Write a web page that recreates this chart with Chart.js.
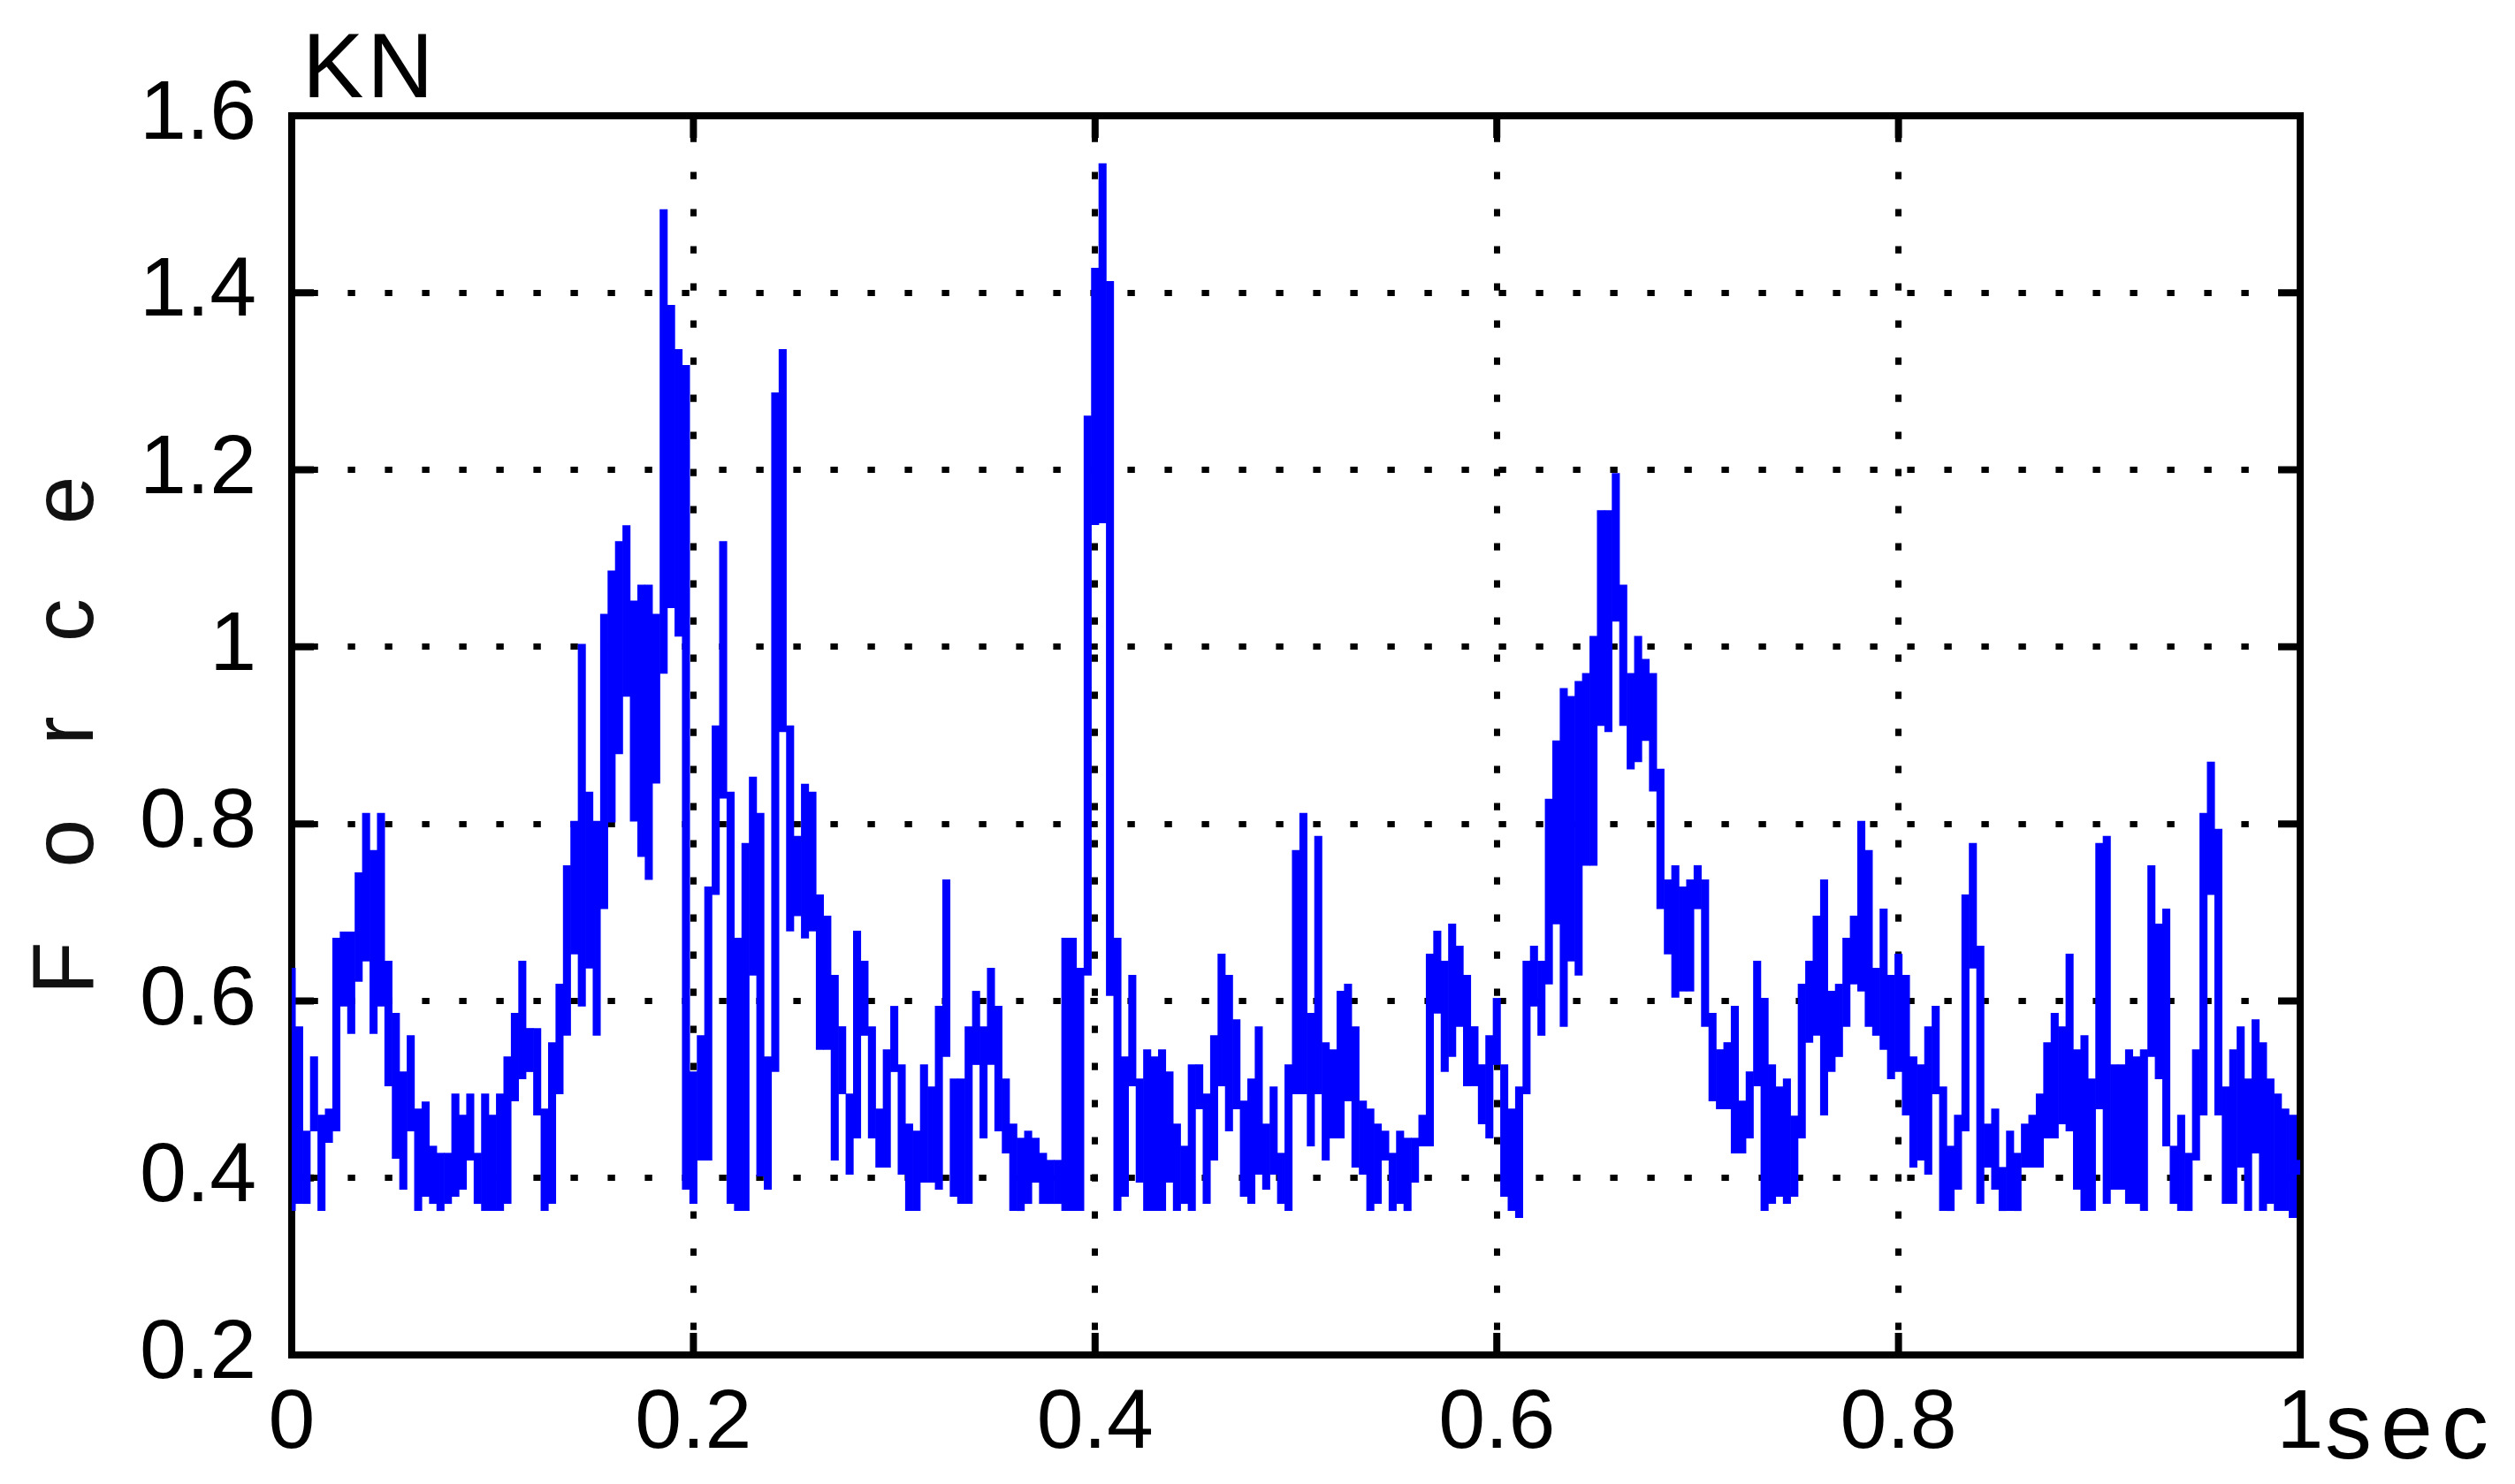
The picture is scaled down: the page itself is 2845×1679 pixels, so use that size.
<!DOCTYPE html>
<html>
<head>
<meta charset="utf-8">
<title>Force</title>
<script src="https://cdn.jsdelivr.net/npm/chart.js@4.4.1/dist/chart.umd.min.js"></script>
<style>
  html, body { margin: 0; padding: 0; background: #ffffff; }
  #chart { display: block; }
</style>
</head>
<body>
<canvas id="chart" width="2845" height="1679"></canvas>
<script>
// force trace, one min/max pair per screen column (271 columns over 1 s)
var forceHigh = [
    0.637, 0.571, 0.453, 0.537, 0.471, 0.478, 0.671, 0.678, 0.678, 0.745,
    0.812, 0.770, 0.812, 0.645, 0.586, 0.520, 0.561, 0.478, 0.486, 0.436,
    0.428, 0.428, 0.495, 0.471, 0.495, 0.428, 0.495, 0.471, 0.495, 0.537,
    0.586, 0.645, 0.569, 0.569, 0.478, 0.553, 0.619, 0.753, 0.803, 1.003,
    0.836, 0.803, 1.037, 1.086, 1.119, 1.137, 1.052, 1.070, 1.070, 1.037,
    1.494, 1.386, 1.336, 1.318, 0.520, 0.561, 0.729, 0.911, 1.119, 0.836,
    0.671, 0.778, 0.853, 0.812, 0.537, 1.287, 1.336, 0.911, 0.786, 0.845,
    0.836, 0.720, 0.696, 0.629, 0.571, 0.495, 0.679, 0.645, 0.571, 0.478,
    0.545, 0.594, 0.528, 0.461, 0.453, 0.528, 0.503, 0.594, 0.737, 0.512,
    0.512, 0.571, 0.611, 0.571, 0.637, 0.594, 0.512, 0.461, 0.445, 0.453,
    0.445, 0.428, 0.420, 0.420, 0.671, 0.671, 0.637, 1.261, 1.428, 1.546,
    1.413, 0.671, 0.537, 0.629, 0.512, 0.545, 0.537, 0.545, 0.520, 0.461,
    0.436, 0.528, 0.528, 0.495, 0.561, 0.653, 0.629, 0.579, 0.487, 0.512,
    0.571, 0.461, 0.503, 0.428, 0.528, 0.770, 0.812, 0.586, 0.786, 0.553,
    0.545, 0.611, 0.619, 0.571, 0.487, 0.478, 0.461, 0.453, 0.428, 0.453,
    0.445, 0.445, 0.471, 0.653, 0.679, 0.645, 0.687, 0.662, 0.629, 0.571,
    0.528, 0.561, 0.603, 0.528, 0.478, 0.503, 0.645, 0.662, 0.645, 0.828,
    0.894, 0.953, 0.944, 0.961, 0.970, 1.012, 1.154, 1.154, 1.196, 1.070,
    0.970, 1.012, 0.986, 0.970, 0.862, 0.737, 0.753, 0.729, 0.737, 0.753,
    0.737, 0.586, 0.545, 0.553, 0.594, 0.487, 0.520, 0.645, 0.603, 0.528,
    0.503, 0.512, 0.470, 0.619, 0.645, 0.696, 0.737, 0.611, 0.619, 0.671,
    0.696, 0.803, 0.770, 0.637, 0.704, 0.629, 0.653, 0.629, 0.537, 0.528,
    0.571, 0.594, 0.503, 0.436, 0.471, 0.720, 0.778, 0.662, 0.461, 0.478,
    0.412, 0.453, 0.428, 0.461, 0.471, 0.495, 0.553, 0.586, 0.571, 0.653,
    0.545, 0.561, 0.512, 0.778, 0.786, 0.528, 0.528, 0.545, 0.537, 0.545,
    0.753, 0.687, 0.704, 0.436, 0.471, 0.428, 0.545, 0.812, 0.870, 0.794,
    0.503, 0.545, 0.571, 0.512, 0.579, 0.553, 0.512, 0.495, 0.478, 0.471,
    0.420
];

var forceLow = [
    0.363, 0.371, 0.371, 0.453, 0.363, 0.440, 0.453, 0.594, 0.563, 0.622,
    0.645, 0.563, 0.594, 0.504, 0.422, 0.387, 0.453, 0.363, 0.379, 0.371,
    0.363, 0.371, 0.379, 0.387, 0.420, 0.371, 0.363, 0.363, 0.363, 0.371,
    0.487, 0.512, 0.520, 0.471, 0.363, 0.371, 0.495, 0.561, 0.653, 0.594,
    0.637, 0.561, 0.704, 0.802, 0.879, 0.944, 0.803, 0.763, 0.737, 0.846,
    0.970, 1.044, 1.012, 0.387, 0.371, 0.420, 0.420, 0.720, 0.829, 0.371,
    0.363, 0.363, 0.629, 0.402, 0.387, 0.520, 0.904, 0.679, 0.696, 0.671,
    0.679, 0.545, 0.545, 0.420, 0.495, 0.404, 0.445, 0.561, 0.445, 0.412,
    0.412, 0.520, 0.404, 0.363, 0.363, 0.395, 0.395, 0.387, 0.537, 0.379,
    0.371, 0.371, 0.528, 0.445, 0.528, 0.453, 0.428, 0.363, 0.363, 0.371,
    0.395, 0.371, 0.371, 0.371, 0.363, 0.363, 0.363, 0.629, 1.138, 1.140,
    0.606, 0.363, 0.379, 0.504, 0.395, 0.363, 0.363, 0.363, 0.395, 0.363,
    0.371, 0.363, 0.478, 0.371, 0.420, 0.504, 0.453, 0.478, 0.379, 0.371,
    0.404, 0.387, 0.404, 0.371, 0.363, 0.495, 0.495, 0.436, 0.495, 0.420,
    0.445, 0.445, 0.487, 0.412, 0.404, 0.363, 0.371, 0.420, 0.363, 0.371,
    0.363, 0.395, 0.436, 0.436, 0.586, 0.520, 0.537, 0.571, 0.504, 0.504,
    0.461, 0.445, 0.528, 0.379, 0.363, 0.355, 0.495, 0.594, 0.561, 0.619,
    0.687, 0.571, 0.645, 0.629, 0.753, 0.753, 0.911, 0.904, 1.029, 0.911,
    0.862, 0.870, 0.894, 0.837, 0.704, 0.653, 0.604, 0.611, 0.611, 0.704,
    0.571, 0.487, 0.478, 0.478, 0.428, 0.428, 0.445, 0.504, 0.363, 0.371,
    0.379, 0.371, 0.379, 0.445, 0.553, 0.561, 0.471, 0.520, 0.537, 0.571,
    0.619, 0.611, 0.571, 0.561, 0.545, 0.512, 0.520, 0.471, 0.412, 0.420,
    0.404, 0.495, 0.363, 0.363, 0.387, 0.453, 0.637, 0.371, 0.412, 0.387,
    0.363, 0.363, 0.363, 0.412, 0.412, 0.412, 0.445, 0.445, 0.461, 0.453,
    0.387, 0.363, 0.363, 0.478, 0.371, 0.387, 0.387, 0.371, 0.371, 0.363,
    0.537, 0.512, 0.436, 0.371, 0.363, 0.363, 0.420, 0.471, 0.720, 0.471,
    0.371, 0.371, 0.412, 0.363, 0.428, 0.363, 0.371, 0.363, 0.363, 0.355,
    0.404
];

var sampleStep = 1 / 270;
var timeTicks = [0, 0.2, 0.4, 0.6, 0.8, 1];
var forceTicks = [0.2, 0.4, 0.6, 0.8, 1, 1.2, 1.4, 1.6];
var unitLabel = 'KN';
var axisLabel = 'Force';
var timeUnit = 'sec';

var fontFamily = '"Liberation Sans", Arial, Helvetica, sans-serif';

function tickText(v)
{
    return String(+v.toFixed(1));
}

var framePlugin = {
    id: 'frame',

    beforeDatasetsDraw: function (chart)
    {
        var ctx = chart.ctx, a = chart.chartArea;
        var xs = chart.scales.x, ys = chart.scales.y;

        ctx.save();
        ctx.strokeStyle = '#000000';
        ctx.lineWidth = 8;
        ctx.strokeRect(a.left, a.top, a.right - a.left, a.bottom - a.top);

        // MATLAB style inward ticks on all four sides
        ctx.beginPath();
        forceTicks.forEach(function (v)
        {
            var p = ys.getPixelForValue(v);
            ctx.moveTo(a.left, p); ctx.lineTo(a.left + 25, p);
            ctx.moveTo(a.right, p); ctx.lineTo(a.right - 25, p);
        });
        timeTicks.forEach(function (v)
        {
            var p = xs.getPixelForValue(v);
            ctx.moveTo(p, a.bottom); ctx.lineTo(p, a.bottom - 25);
            ctx.moveTo(p, a.top); ctx.lineTo(p, a.top + 25);
        });
        ctx.stroke();
        ctx.restore();
    },

    afterDraw: function (chart)
    {
        var ctx = chart.ctx, a = chart.chartArea;
        var xs = chart.scales.x;

        ctx.save();
        ctx.fillStyle = '#000000';
        ctx.textBaseline = 'alphabetic';
        ctx.textAlign = 'left';

        ctx.font = '104px ' + fontFamily;
        ctx.letterSpacing = '4px';
        ctx.fillText(unitLabel, a.left + 12, a.top - 21);

        ctx.font = '106px ' + fontFamily;
        ctx.letterSpacing = '10px';
        ctx.fillText(timeUnit, xs.getPixelForValue(1) + 28, a.bottom + 117);
        ctx.letterSpacing = '0px';

        // spaced out, rotated axis name
        ctx.font = '98px ' + fontFamily;
        ctx.fillStyle = '#111111';
        var gap = 84, total = 0, widths = [];
        for (var i = 0; i < axisLabel.length; i++)
        {
            widths.push(ctx.measureText(axisLabel[i]).width);
            total += widths[i];
        }
        total += gap * (axisLabel.length - 1);

        ctx.translate(105, (a.top + a.bottom) / 2);
        ctx.rotate(-Math.PI / 2);
        var pos = -total / 2;
        for (var j = 0; j < axisLabel.length; j++)
        {
            ctx.fillText(axisLabel[j], pos, 0);
            pos += widths[j] + gap;
        }
        ctx.restore();
    }
};

var points = forceHigh.map(function (hi, i)
{
    return { x: i * sampleStep, y: [forceLow[i], hi] };
});

new Chart(document.getElementById('chart'), {
    type: 'bar',
    data: {
        datasets: [{
            data: points,
            backgroundColor: '#0000ff',
            borderWidth: 0,
            barPercentage: 1,
            categoryPercentage: 1,
            grouped: false
        }]
    },
    options: {
        responsive: false,
        animation: false,
        events: [],
        devicePixelRatio: 1,
        layout: { padding: { top: 131, right: 243, bottom: 0, left: 0 } },
        plugins: {
            legend: { display: false },
            tooltip: { enabled: false },
            title: { display: false }
        },
        scales: {
            x: {
                type: 'linear',
                min: 0,
                max: 1,
                offset: false,
                afterBuildTicks: function (scale)
                {
                    scale.ticks = timeTicks.map(function (v) { return { value: v }; });
                },
                afterFit: function (scale) { scale.height = 146; },
                grid: { color: '#000000', lineWidth: 7, drawTicks: false, offset: false },
                border: { display: false, dash: [8.4, 33.6], dashOffset: 20.6 },
                ticks: {
                    autoSkip: false,
                    maxRotation: 0,
                    padding: 22,
                    color: '#000000',
                    font: { family: fontFamily, size: 95 },
                    callback: function (v) { return tickText(v); }
                }
            },
            y: {
                min: 0.2,
                max: 1.6,
                afterBuildTicks: function (scale)
                {
                    scale.ticks = forceTicks.map(function (v) { return { value: v }; });
                },
                afterFit: function (scale) { scale.width = 330; },
                grid: { color: '#000000', lineWidth: 7, drawTicks: false, offset: false },
                border: { display: false, dash: [8.4, 33.6], dashOffset: 20.6 },
                ticks: {
                    autoSkip: false,
                    padding: 40,
                    color: '#000000',
                    font: { family: fontFamily, size: 95 },
                    callback: function (v) { return tickText(v); }
                }
            }
        }
    },
    plugins: [framePlugin]
});
</script>
</body>
</html>
